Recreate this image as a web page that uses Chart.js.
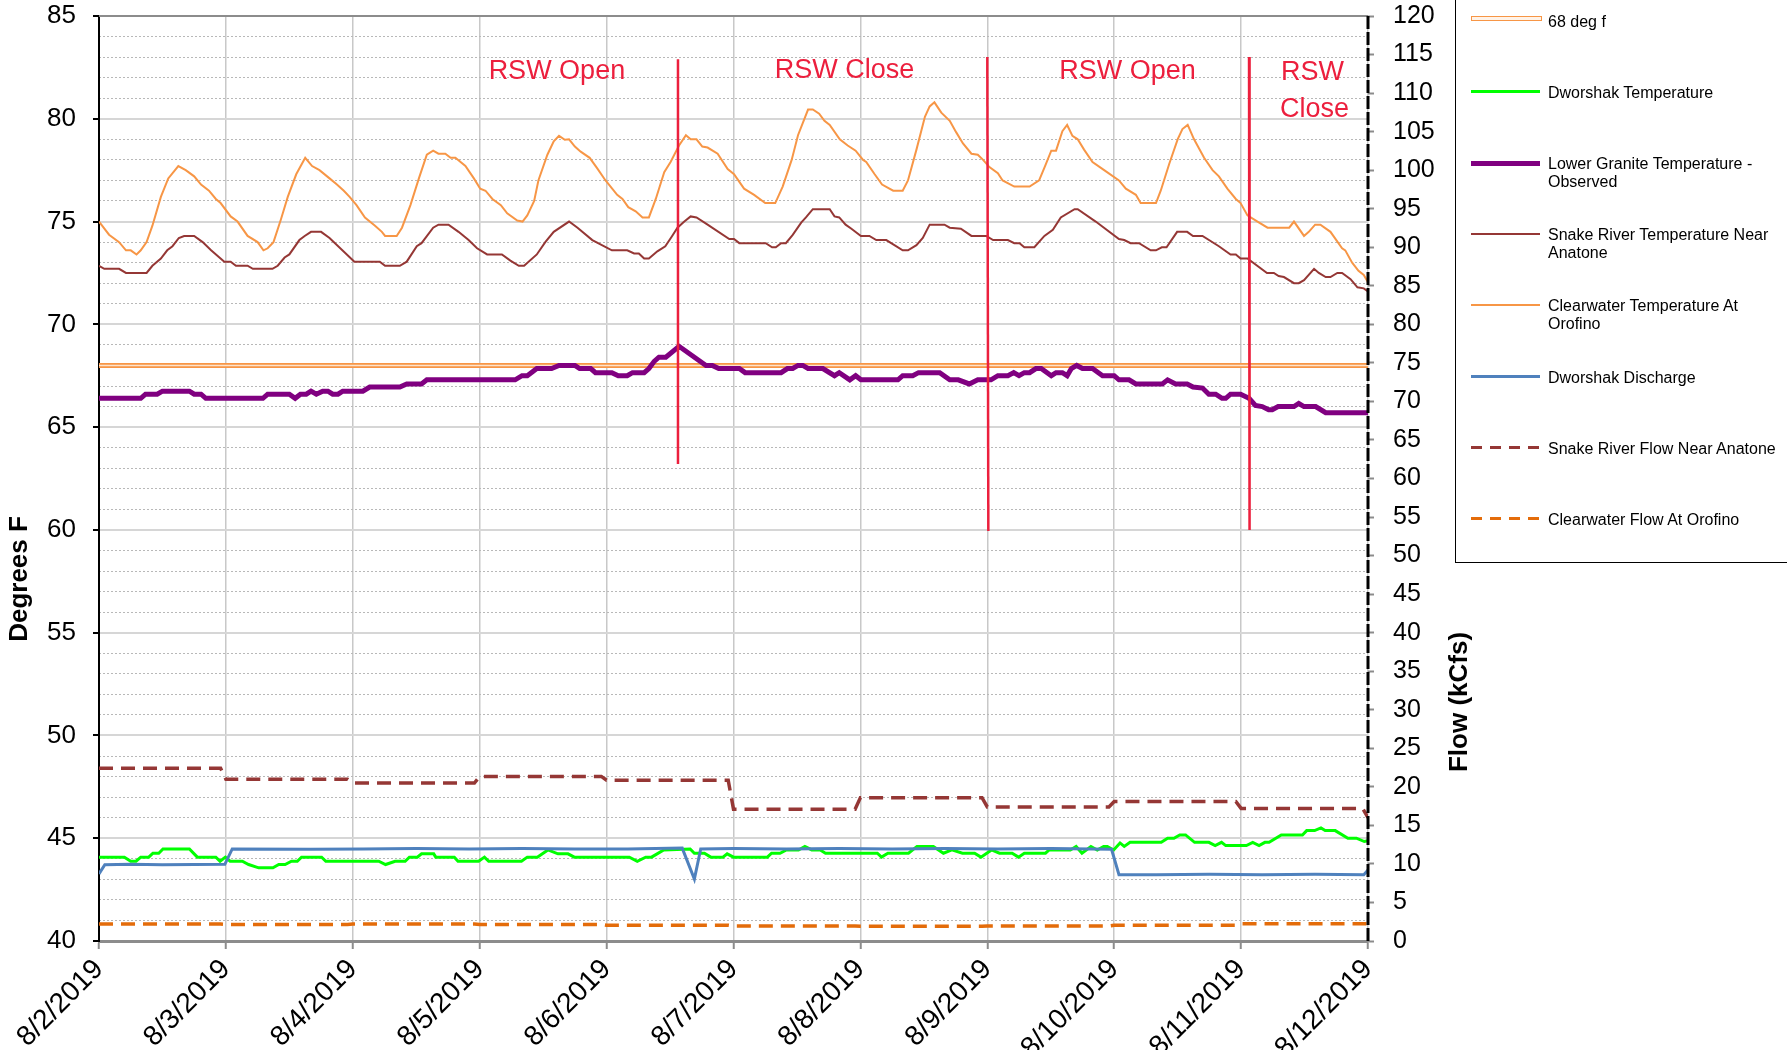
<!DOCTYPE html>
<html>
<head>
<meta charset="utf-8">
<script src="https://cdn.jsdelivr.net/npm/chart.js@4.4.1/dist/chart.umd.min.js"></script>
<style>
body { margin: 0; background: #fff; }
#wrap { position: relative; width: 1787px; height: 1050px; overflow: hidden; font-family: 'Liberation Sans', Arial, sans-serif; }
#legend { position: absolute; left: 1455px; top: -2px; width: 400px; height: 565px; border: 1px solid #000; box-sizing: border-box; }
.item { position: absolute; left: 92px; font-size: 16px; line-height: 18px; color: #000; white-space: nowrap; }
.swatch { position: absolute; left: 15px; width: 69px; }
</style>
</head>
<body>
<div id="wrap">
  <canvas id="flowChart" width="1787" height="1050"></canvas>
  <div id="legend">
    <div class="swatch" style="top:17px;height:3px;border:1.5px solid #f79646;background:#fff3e8;"></div>
    <div class="item" style="top:14px;">68 deg f</div>

    <div class="swatch" style="top:91px;height:3px;background:#00ff00;"></div>
    <div class="item" style="top:85px;">Dworshak Temperature</div>

    <div class="swatch" style="top:162px;height:5px;background:#800080;"></div>
    <div class="item" style="top:156px;">Lower Granite Temperature -<br>Observed</div>

    <div class="swatch" style="top:234px;height:2px;background:#953735;"></div>
    <div class="item" style="top:227px;">Snake River Temperature Near<br>Anatone</div>

    <div class="swatch" style="top:305px;height:2px;background:#f79646;"></div>
    <div class="item" style="top:298px;">Clearwater Temperature At<br>Orofino</div>

    <div class="swatch" style="top:376px;height:3px;background:#4f81bd;"></div>
    <div class="item" style="top:370px;">Dworshak Discharge</div>

    <div class="swatch" style="top:447px;height:3px;background:repeating-linear-gradient(to right,#953735 0 11px,transparent 11px 19px);"></div>
    <div class="item" style="top:441px;">Snake River Flow Near Anatone</div>

    <div class="swatch" style="top:518px;height:3px;background:repeating-linear-gradient(to right,#e46c0a 0 11px,transparent 11px 19px);"></div>
    <div class="item" style="top:512px;">Clearwater Flow At Orofino</div>
  </div>
</div>
<script>
// Trục thời gian: giờ kể từ 8/2/2019 00:00
const dateLabels = ['8/2/2019', '8/3/2019', '8/4/2019', '8/5/2019', '8/6/2019', '8/7/2019',
    '8/8/2019', '8/9/2019', '8/10/2019', '8/11/2019', '8/12/2019'];

// Clearwater Temperature At Orofino (deg F)
const clearwaterTempHours = [0, 1.9, 3.8, 5.1, 6, 7.1, 7.9, 9, 10.1, 11.7, 13.1, 15, 16.4, 18, 19.3, 20.8, 22.1, 23,
    24.9, 26.2, 28.1, 30, 31.1, 31.9, 33, 34.4, 35.7, 37.3, 39, 40.3, 41.7, 43.6, 45, 46.3, 47.4,
    48.7, 50.3, 52.2, 53.5, 54.1, 56.3, 57.3, 58.9, 60.5, 62, 63.2, 64.2, 65.5, 66.5, 67.4, 69.3, 70.9,
    72.1, 73.1, 74.4, 76, 77.2, 79.1, 80.1, 81, 82.3, 83.1, 84.8, 86, 87, 88.1, 88.9, 90, 91.1, 92.8, 94.2, 95.8,
    98, 99, 100.1, 101.5, 102.8, 104, 105.3, 106.9, 108.1, 109.7, 111, 111.9, 113, 114.1, 115.1, 117, 118.9,
    120.1, 122, 123.9, 126, 127.9, 129.3, 131, 132.2, 134.1, 135, 136.2, 137.2, 138.2, 140.1, 141.6, 143.1,
    144.5, 145.1, 146.7, 148.1, 150.2, 152, 153, 154.6, 156.2, 157.1, 158, 159.3, 160.9, 162.1, 163.4, 165,
    166.2, 167.2, 168.4, 170, 170.9, 173.1, 176, 177.8, 179, 180.1, 181, 182.2, 183.1, 184.1, 185.1, 186.3,
    187.9, 190.1, 192.9, 194.2, 196.1, 197, 199.9, 200.8, 202.4, 204, 204.9, 205.9, 207.1, 209, 210.6,
    211.8, 213.4, 215, 215.9, 217.2, 219.1, 221, 225.1, 226, 227.9, 228.8, 230, 231, 232.9, 235.1, 235.7,
    237, 238.2, 239.2, 240];
const clearwaterTempValues = [75.0, 74.36, 74.0, 73.6, 73.6, 73.4, 73.6, 74.0, 74.8, 76.2, 77.1, 77.7, 77.5, 77.2, 76.8, 76.5, 76.1, 75.9,
    75.25, 75.0, 74.3, 74.0, 73.6, 73.7, 74.0, 75.1, 76.2, 77.3, 78.1, 77.7, 77.5, 77.1, 76.8, 76.5, 76.2,
    75.8, 75.2, 74.8, 74.5, 74.3, 74.3, 74.7, 75.8, 77.1, 78.25, 78.45, 78.3, 78.3, 78.1, 78.1, 77.7, 77.1,
    76.6, 76.5, 76.1, 75.8, 75.4, 75.05, 75.0, 75.3, 76.0, 77.0, 78.25, 78.9, 79.17, 78.98, 79.0, 78.65, 78.4, 78.1, 77.6, 77.0,
    76.3, 76.1, 75.7, 75.5, 75.2, 75.2, 76.1, 77.4, 77.9, 78.7, 79.2, 79.0, 79.0, 78.65, 78.6, 78.3, 77.55,
    77.3, 76.6, 76.3, 75.9, 75.9, 76.7, 78.0, 79.2, 80.45, 80.45, 80.25, 79.9, 79.7, 79.0, 78.7, 78.45,
    78.0, 77.9, 77.3, 76.8, 76.5, 76.5, 77.0, 78.5, 80.1, 80.6, 80.8, 80.3, 79.9, 79.35, 78.8, 78.3,
    78.25, 78.0, 77.65, 77.35, 77.0, 76.7, 76.7, 77.0, 77.75, 78.45, 78.45, 79.4, 79.7, 79.17, 79.0, 78.5,
    77.9, 77.5, 77.0, 76.6, 76.3, 75.9, 75.9, 76.5, 77.8, 79.0, 79.5, 79.7, 79.0, 78.1, 77.5,
    77.2, 76.6, 76.1, 75.9, 75.3, 75.0, 74.7, 74.7, 75.0, 74.3, 74.5, 74.85, 74.85, 74.5, 73.7, 73.6,
    73.0, 72.6, 72.4, 72.05];

// Snake River Temperature Near Anatone (deg F)
const snakeTempHours = [0, 1, 3.8, 5.1, 9, 10.1, 11.7, 12.9, 13.9, 15.1, 16.1, 18, 19.6, 21.2, 23.7, 24.9, 25.9, 28.1,
    29.1, 32.8, 33.8, 35.1, 36, 37.9, 38.9, 40.1, 42, 43.6, 48.3, 53.1, 54.1, 56.9, 58.2, 60.1, 61, 63.2,
    64.2, 66.1, 68, 69.9, 71.5, 73.4, 76.2, 77.8, 79.4, 80.4, 82.8, 84.4, 86, 88.9, 90.5, 93.3, 97, 99.9,
    101.2, 102.1, 103.1, 104, 105.6, 107.1, 108.4, 109.4, 110.7, 111.9, 113, 115.1, 119.2, 120.1, 121.1,
    126.1, 127.3, 128, 129, 129.9, 131.2, 132.8, 133.7, 135, 138.2, 139.1, 140, 141.2, 142.3, 144.1, 145.7,
    147, 148.9, 152, 153, 154.6, 155.8, 157.1, 159.9, 160.9, 163, 165, 167.8, 169.1, 171.9, 173.1, 174.1,
    175, 176.9, 178.8, 180.4, 181.9, 184.5, 185.1, 188.5, 192.9, 193.9, 195.1, 196.7, 198.9, 199.9, 201,
    201.9, 203.9, 205.8, 206.9, 208.7, 211.8, 214, 215, 215.9, 217.2, 220.9, 222.2, 223.1, 224.1, 226,
    226.9, 227.9, 229.8, 230.7, 232, 232.9, 234.2, 235.1, 236.7, 238, 239.2, 240];
const snakeTempValues = [72.85, 72.7, 72.7, 72.5, 72.5, 72.85, 73.2, 73.6, 73.8, 74.2, 74.3, 74.3, 74.0, 73.6, 73.05, 73.05, 72.85, 72.85,
    72.7, 72.7, 72.85, 73.25, 73.4, 74.1, 74.3, 74.5, 74.5, 74.2, 73.05, 73.05, 72.85, 72.85, 73.05, 73.8, 73.95, 74.7,
    74.85, 74.85, 74.5, 74.1, 73.7, 73.4, 73.4, 73.1, 72.85, 72.85, 73.4, 74.0, 74.5, 75.0, 74.7, 74.1, 73.6, 73.6,
    73.45, 73.45, 73.2, 73.2, 73.55, 73.8, 74.3, 74.7, 75.0, 75.25, 75.2, 74.85, 74.15, 74.15, 73.95,
    73.95, 73.75, 73.75, 73.95, 73.95, 74.35, 74.95, 75.2, 75.6, 75.6, 75.25, 75.2, 74.85, 74.65, 74.3, 74.3,
    74.1, 74.1, 73.6, 73.6, 73.85, 74.2, 74.85, 74.85, 74.7, 74.65, 74.3, 74.3, 74.1, 74.1, 73.95, 73.95,
    73.75, 73.75, 74.3, 74.6, 75.2, 75.6, 75.6, 75.0, 74.15, 74.1, 73.95, 73.95, 73.6, 73.6, 73.75,
    73.75, 74.5, 74.5, 74.3, 74.3, 73.8, 73.4, 73.4, 73.2, 73.2, 72.5, 72.5, 72.35, 72.3, 72.0,
    72.0, 72.15, 72.7, 72.5, 72.3, 72.3, 72.5, 72.5, 72.2, 71.8, 71.75, 71.6];

// Lower Granite Temperature - Observed (deg F)
const lowerGraniteHours = [0, 7.9, 8.8, 11, 12, 17.1, 18, 19.3, 20.2, 31, 31.9, 36, 37.1, 38.1, 39.2, 40.1, 41.1, 42.3,
    43.3, 44.2, 45.2, 46.1, 49.9, 51.2, 56.9, 58.2, 61, 62, 78.7, 80, 81, 82.8, 85.6, 87, 90, 90.9, 93, 93.9,
    97, 98.2, 99.9, 100.9, 103.1, 104, 105, 105.9, 107.2, 109.7, 114.8, 116, 117.2, 121.1, 122.2, 129,
    130.2, 131.2, 132.2, 133.1, 134.1, 136.9, 139.1, 140, 142, 143.1, 144.1, 151.1, 152, 153.9, 155, 159,
    160.9, 162.5, 164.6, 166.2, 168.7, 170, 171.9, 173, 174, 175, 176, 177.2, 178.2, 180.1, 181, 182.2,
    183.1, 183.9, 184.9, 186, 187.9, 189.8, 192, 192.9, 194.8, 196.1, 201.1, 202.1, 203.6, 205.8, 206.9,
    208.7, 209.9, 211.2, 212.4, 213.1, 214, 215.9, 217.5, 218.7, 220, 221.2, 221.9, 223, 226, 226.9,
    227.9, 230.1, 232, 240];
const lowerGraniteValues = [66.4, 66.4, 66.6, 66.6, 66.75, 66.75, 66.6, 66.6, 66.4, 66.4, 66.6, 66.6, 66.4, 66.6, 66.6, 66.75, 66.6, 66.75,
    66.75, 66.6, 66.6, 66.75, 66.75, 66.95, 66.95, 67.1, 67.1, 67.3, 67.3, 67.5, 67.5, 67.85, 67.85, 68.0, 68.0, 67.85, 67.85, 67.65,
    67.65, 67.5, 67.5, 67.65, 67.65, 67.85, 68.2, 68.4, 68.4, 68.93, 68.0, 68.0, 67.85, 67.85, 67.65, 67.65,
    67.85, 67.85, 68.0, 68.0, 67.85, 67.85, 67.5, 67.65, 67.3, 67.5, 67.3, 67.3, 67.5, 67.5, 67.65, 67.65,
    67.3, 67.3, 67.1, 67.3, 67.3, 67.5, 67.5, 67.65, 67.5, 67.65, 67.65, 67.85, 67.85, 67.5, 67.65, 67.65,
    67.5, 67.85, 68.0, 67.85, 67.85, 67.5, 67.5, 67.3, 67.3, 67.1, 67.1, 67.3, 67.1, 67.1, 66.95,
    66.9, 66.6, 66.6, 66.4, 66.4, 66.6, 66.6, 66.4, 66.05, 66.0, 65.85, 65.85, 66.0, 66.0, 66.15,
    66.0, 66.0, 65.7, 65.7];

// Dworshak Temperature (deg F)
const dworshakTempHours = [0, 4.8, 6, 7, 7.9, 9.4, 10.2, 11.3, 12.1, 17.1, 18.6, 22.1, 22.9, 23.9, 24.8, 27.1, 28.3,
    30.2, 32.9, 34, 35.2, 36.4, 37.5, 38.3, 42.1, 42.9, 52.9, 54.2, 56, 57.9, 58.7, 60.2, 61, 63.3, 63.7,
    67.2, 67.9, 71.8, 72.9, 73.7, 79.9, 81, 82.9, 84.9, 86.8, 88.7, 89.9, 100.3, 101.8, 103.4, 104.5,
    106.8, 111.8, 112.6, 114.5, 115.7, 118, 118.8, 120, 126.4, 127.2, 128.8, 130, 132.3, 133.5, 134.8,
    136.4, 137.4, 147.2, 148, 149.2, 153.1, 154.7, 157.8, 159.7, 161.3, 163.3, 165.6, 166.8, 168.8, 170.3,
    172.7, 173.9, 175, 179, 179.7, 183.7, 184.8, 185.9, 187.6, 188.8, 190, 190.7, 191.9, 193.1, 193.9,
    195, 200.9, 202.1, 203.3, 204.4, 205.5, 207.2, 209.9, 211.1, 212.3, 213.1, 217, 218.2, 219.4, 220.5,
    221.3, 223.6, 227.6, 228.4, 229.9, 231.1, 231.9, 233.8, 236.2, 237.8, 239.3, 240];
const dworshakTempValues = [44.08, 44.08, 43.88, 43.88, 44.08, 44.08, 44.27, 44.27, 44.48, 44.48, 44.08, 44.08, 43.88, 44.08, 43.88, 43.88, 43.72,
    43.56, 43.56, 43.72, 43.72, 43.88, 43.88, 44.08, 44.08, 43.88, 43.88, 43.72, 43.88, 43.88, 44.08, 44.08, 44.24, 44.24, 44.08,
    44.08, 43.88, 43.88, 44.08, 43.88, 43.88, 44.08, 44.08, 44.43, 44.24, 44.24, 44.08, 44.08, 43.88, 44.08, 44.08,
    44.43, 44.48, 44.27, 44.27, 44.08, 44.08, 44.24, 44.08, 44.08, 44.27, 44.27, 44.43, 44.43, 44.6, 44.43,
    44.43, 44.27, 44.27, 44.08, 44.27, 44.27, 44.6, 44.6, 44.27, 44.43, 44.27, 44.27, 44.08, 44.43, 44.27,
    44.27, 44.08, 44.27, 44.27, 44.43, 44.43, 44.6, 44.27, 44.6, 44.43, 44.6, 44.6, 44.43, 44.77, 44.6,
    44.8, 44.8, 45.0, 45.0, 45.16, 45.16, 44.8, 44.8, 44.64, 44.8, 44.64, 44.64, 44.8, 44.64, 44.8,
    44.8, 45.16, 45.16, 45.37, 45.37, 45.5, 45.37, 45.37, 45.0, 45.0, 44.84, 44.88];

// Dworshak Discharge (kcfs)
const dworshakFlowHours = [0, 1.1, 6, 12, 18, 23.8, 25.2, 40, 50, 60, 70, 80, 90, 100, 110.3, 112.6, 113.8, 120,
    130, 140, 150, 160, 170, 180, 191.5, 192.9, 200, 210, 220, 230, 239.2, 240];
const dworshakFlowValues = [8.7, 9.9, 9.95, 9.9, 9.92, 9.95, 11.95, 11.9, 11.95, 12.0, 11.95, 12.0, 11.95, 11.95, 12.05, 8.05, 11.95, 12.0,
    11.95, 12.0, 11.95, 12.0, 11.95, 12.0, 11.9, 8.6, 8.6, 8.65, 8.6, 8.65, 8.6, 9.2];

// Snake River Flow Near Anatone (kcfs)
const snakeFlowHours = [0, 23, 24, 47, 48, 71, 72, 95, 96, 119, 120, 143, 144, 167, 168, 191, 192, 215, 216, 239, 240];
const snakeFlowValues = [22.4, 22.4, 21.0, 21.0, 20.5, 20.5, 21.35, 21.35, 20.85, 20.85, 17.1, 17.1, 18.6, 18.6,
    17.4, 17.4, 18.1, 18.1, 17.2, 17.2, 16.0];

// Clearwater Flow At Orofino (kcfs)
const clearwaterFlowHours = [0, 23, 24, 47, 48, 71, 72, 95, 96, 119, 120, 143, 144, 167, 168, 191, 192, 215, 216, 240];
const clearwaterFlowValues = [2.2, 2.2, 2.15, 2.15, 2.2, 2.2, 2.15, 2.15, 2.05, 2.05, 1.95, 1.95, 1.9, 1.9,
    1.95, 1.95, 2.05, 2.05, 2.25, 2.25];

// Ngưỡng 68 độ F
const thresholdHours = [0, 240];
const thresholdValues = [68, 68];

// Các vạch RSW (giờ, nhiệt độ đầu - cuối)
const rswLineHours = [[109.5, 109.5], [168, 168.2], [217.5, 217.6]];
const rswLineValues = [[82.9, 63.2], [83.0, 59.95], [83.0, 60.0]];
const rswTexts = ['RSW Open', 'RSW Close', 'RSW Open', 'RSW', 'Close'];
const rswTextHours = [86.6, 141, 194.5, 229.5, 229.9];
const rswTextValues = [82.3, 82.35, 82.3, 82.25, 80.45];

const FONT = "'Liberation Sans', Arial, sans-serif";
const RED = '#ec1f3d';

function pts(hours, values) {
    return hours.map((h, i) => ({ x: h, y: values[i] }));
}

const rswDatasets = rswLineHours.map((hs, i) => ({
    data: pts(hs, rswLineValues[i]),
    yAxisID: 'y', borderColor: RED, borderWidth: 2.5, order: 0
}));

// Bỏ phần đệm trên/dưới do nhãn trục dọc gây ra
function noLabelPadding(s) {
    s.paddingTop = 0;
    s.paddingBottom = 0;
}

// Vẽ chữ chú thích, viền trên, viền phải nét đứt và tiêu đề trục
const extrasPlugin = {
    id: 'extras',
    afterDatasetsDraw(chart) {
        const { ctx, scales } = chart;
        ctx.save();
        ctx.fillStyle = RED;
        ctx.font = '27px ' + FONT;
        ctx.textAlign = 'center';
        ctx.textBaseline = 'middle';
        rswTexts.forEach((t, i) => {
            ctx.fillText(t, scales.x.getPixelForValue(rswTextHours[i]), scales.y.getPixelForValue(rswTextValues[i]));
        });
        ctx.restore();
    },
    afterDraw(chart) {
        const { ctx, chartArea } = chart;
        ctx.save();
        ctx.strokeStyle = '#8c8c8c';
        ctx.lineWidth = 2;
        ctx.beginPath();
        ctx.moveTo(chartArea.left, chartArea.top);
        ctx.lineTo(chartArea.right, chartArea.top);
        ctx.stroke();

        ctx.strokeStyle = '#000';
        ctx.lineWidth = 3;
        ctx.setLineDash([13, 3]);
        ctx.beginPath();
        ctx.moveTo(chartArea.right, chartArea.top);
        ctx.lineTo(chartArea.right, chartArea.bottom);
        ctx.stroke();
        ctx.setLineDash([]);

        ctx.fillStyle = '#000';
        ctx.font = 'bold 26px ' + FONT;
        ctx.textAlign = 'center';
        ctx.textBaseline = 'middle';
        ctx.translate(20, 579);
        ctx.rotate(-Math.PI / 2);
        ctx.fillText('Degrees F', 0, 0);
        ctx.setTransform(1, 0, 0, 1, 0, 0);
        ctx.translate(1460, 702);
        ctx.rotate(-Math.PI / 2);
        ctx.fillText('Flow (kCfs)', 0, 0);
        ctx.restore();
    }
};

const ctx = document.getElementById('flowChart').getContext('2d');

new Chart(ctx, {
    type: 'line',
    data: {
        datasets: [
            { label: '68 deg f', data: pts(thresholdHours, thresholdValues), yAxisID: 'y', borderColor: '#f79646', borderWidth: 5, order: 9 },
            { label: '68 deg f inner', data: pts(thresholdHours, thresholdValues), yAxisID: 'y', borderColor: '#fde3cc', borderWidth: 1.5, order: 8 },
            { label: 'Clearwater Flow At Orofino', data: pts(clearwaterFlowHours, clearwaterFlowValues), yAxisID: 'yFlow',
              borderColor: '#e46c0a', borderWidth: 3.5, borderDash: [14, 8], order: 7 },
            { label: 'Snake River Flow Near Anatone', data: pts(snakeFlowHours, snakeFlowValues), yAxisID: 'yFlow',
              borderColor: '#953735', borderWidth: 3.5, borderDash: [14, 8], order: 7 },
            { label: 'Clearwater Temperature At Orofino', data: pts(clearwaterTempHours, clearwaterTempValues), yAxisID: 'y',
              borderColor: '#f79646', borderWidth: 2, order: 6 },
            { label: 'Snake River Temperature Near Anatone', data: pts(snakeTempHours, snakeTempValues), yAxisID: 'y',
              borderColor: '#953735', borderWidth: 2, order: 5 },
            { label: 'Dworshak Temperature', data: pts(dworshakTempHours, dworshakTempValues), yAxisID: 'y',
              borderColor: '#00ff00', borderWidth: 3, order: 4 },
            { label: 'Dworshak Discharge', data: pts(dworshakFlowHours, dworshakFlowValues), yAxisID: 'yFlow',
              borderColor: '#4f81bd', borderWidth: 3, order: 3 },
            { label: 'Lower Granite Temperature - Observed', data: pts(lowerGraniteHours, lowerGraniteValues), yAxisID: 'y',
              borderColor: '#800080', borderWidth: 5, order: 2 },
            ...rswDatasets
        ]
    },
    options: {
        responsive: false,
        animation: false,
        devicePixelRatio: 1,
        elements: { point: { radius: 0 }, line: { tension: 0, borderCapStyle: 'butt' } },
        layout: { padding: { top: 16, right: 347, left: 0, bottom: 0 } },
        plugins: { legend: { display: false }, tooltip: { enabled: false } },
        scales: {
            x: {
                type: 'linear', min: 0, max: 240,
                ticks: {
                    stepSize: 24, autoSkip: false, maxRotation: 45, minRotation: 45, padding: 4,
                    color: '#000', font: { family: FONT, size: 28 },
                    callback: v => dateLabels[v / 24]
                },
                grid: { color: '#c8c8c8', lineWidth: 1.5, tickLength: 8, tickColor: '#8c8c8c', tickWidth: 2 },
                border: { color: '#8c8c8c', width: 3 },
                afterFit: s => { s.height = 109; }
            },
            yMinor: {
                position: 'left', min: 40, max: 85,
                ticks: { stepSize: 1, display: false },
                grid: { drawTicks: false, lineWidth: 1, color: c => (c.tick.value % 5 === 0 ? 'rgba(0,0,0,0)' : '#b8b8b8') },
                border: { display: false, dash: [2, 2] },
                afterFit: s => { s.width = 0; noLabelPadding(s); }
            },
            y: {
                position: 'left', min: 40, max: 85,
                ticks: { stepSize: 5, padding: 17, color: '#000', font: { family: FONT, size: 26 } },
                grid: { color: '#d6d6d6', lineWidth: 2, tickLength: 6, tickColor: '#000', tickWidth: 2 },
                border: { color: '#000', width: 2 },
                afterFit: s => { s.width = 99; noLabelPadding(s); }
            },
            yFlow: {
                position: 'right', min: 0, max: 120,
                ticks: { stepSize: 5, padding: 19, color: '#000', font: { family: FONT, size: 25 } },
                grid: { drawOnChartArea: false, tickLength: 6, tickColor: '#8c8c8c', tickWidth: 2 },
                border: { display: false },
                afterFit: s => { s.width = 72; noLabelPadding(s); }
            }
        }
    },
    plugins: [extrasPlugin]
});
</script>
</body>
</html>
